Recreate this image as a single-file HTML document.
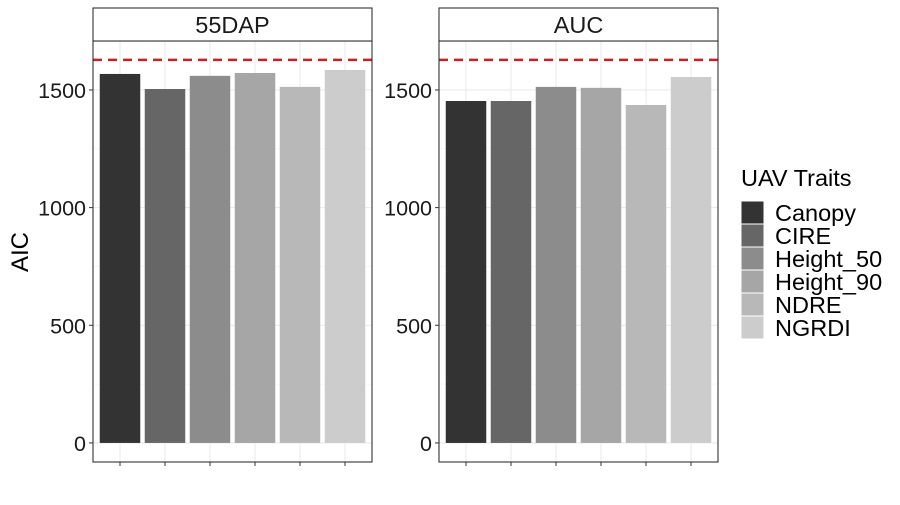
<!DOCTYPE html>
<html><head><meta charset="utf-8"><style>
body{margin:0;background:#fff}
text{font-family:"Liberation Sans",Arial,sans-serif}
</style></head><body>
<svg id="c" width="900" height="500" xmlns="http://www.w3.org/2000/svg"></svg>
<script>
const panels=["55DAP","AUC"];
const traits=["Canopy","CIRE","Height_50","Height_90","NDRE","NGRDI"];
const vals55=[1568,1504,1560,1572,1513,1585];
const valsAUC=[1453,1453,1513,1509,1436,1555];
const refLine=1628;
const yTicks=[0,500,1000,1500];
const colors=["#333333","#666666","#8c8c8c","#a6a6a6","#b8b8b8","#cccccc"];
const NS="http://www.w3.org/2000/svg";
const svg=document.getElementById('c');
function mk(t,a,p){const e=document.createElementNS(NS,t);for(const k in a)e.setAttribute(k,a[k]);(p||svg).appendChild(e);return e;}
const yTop=41,yBot=462,yMin=-81,yMax=1708;
function y(v){return yBot-(v-yMin)/(yMax-yMin)*(yBot-yTop);}
const pX=[93,439],pW=279;
function x(i,x0){return x0+(0.6+i)*pW/6.2;}
[vals55,valsAUC].forEach((vals,pi)=>{
  const x0=pX[pi];
  const g=mk('g',{});
  
  
  yTicks.forEach((t,k)=>{mk('line',{x1:x0,x2:x0+pW,y1:y(t),y2:y(t),stroke:'#ebebeb','stroke-width':1.1},g);
    if(k<yTicks.length-1) mk('line',{x1:x0,x2:x0+pW,y1:y(t+250),y2:y(t+250),stroke:'#f2f2f2','stroke-width':0.6},g);});
  mk('line',{x1:x0,x2:x0+pW,y1:y(1750),y2:y(1750),stroke:'#f2f2f2','stroke-width':0.6},g);
  traits.forEach((t,i)=>{mk('line',{x1:x(i,x0),x2:x(i,x0),y1:yTop,y2:yBot,stroke:'#ebebeb','stroke-width':1.1},g);
    mk('line',{x1:x(i,x0),x2:x(i,x0),y1:yBot,y2:yBot+4,stroke:'#333','stroke-width':1},g);});
  const bw=0.9*pW/6.2;
  vals.forEach((v,i)=>{const r=mk('rect',{x:x(i,x0)-bw/2,y:y(v),width:bw,height:y(0)-y(v),fill:colors[i]},g);
    
    });
  const d=mk('line',{x1:x0,x2:x0+pW,y1:y(refLine),y2:y(refLine),stroke:'#c0242a','stroke-width':2.5,'stroke-dasharray':'9,6'},g);
  
  mk('rect',{x:x0,y:yTop,width:pW,height:yBot-yTop,fill:'none',stroke:'#333','stroke-width':1.1},g);
  mk('rect',{x:x0,y:8,width:pW,height:33,fill:'#fff',stroke:'#333','stroke-width':1.1},g);
  const st=mk('text',{x:x0+pW/2,y:33,'text-anchor':'middle','font-size':23.5,fill:'#1a1a1a'},g);st.textContent=panels[pi];
  
  yTicks.forEach(t=>{mk('line',{x1:x0-4,x2:x0,y1:y(t),y2:y(t),stroke:'#333','stroke-width':1},g);
    const tl=mk('text',{x:x0-7,y:y(t)+8,'text-anchor':'end','font-size':21.5,fill:'#1a1a1a'},g);tl.textContent=t;
    });
});
const yt=mk('text',{x:28,y:252,'text-anchor':'middle','font-size':24,fill:'#000',transform:'rotate(-90 28 252)'});
yt.textContent='AIC';
const lg=mk('g',{});
const lt=mk('text',{x:741,y:186,'font-size':23.5,fill:'#000'},lg);lt.textContent='UAV Traits';
traits.forEach((t,i)=>{const ky=201+i*23;
  const e=mk('g',{},lg);
  mk('rect',{x:741,y:ky,width:23,height:23,fill:colors[i],stroke:'#fff','stroke-width':1},e);
  const tx=mk('text',{x:775,y:ky+20,'font-size':23.5,fill:'#000'},e);tx.textContent=t;});
</script>
</body></html>
